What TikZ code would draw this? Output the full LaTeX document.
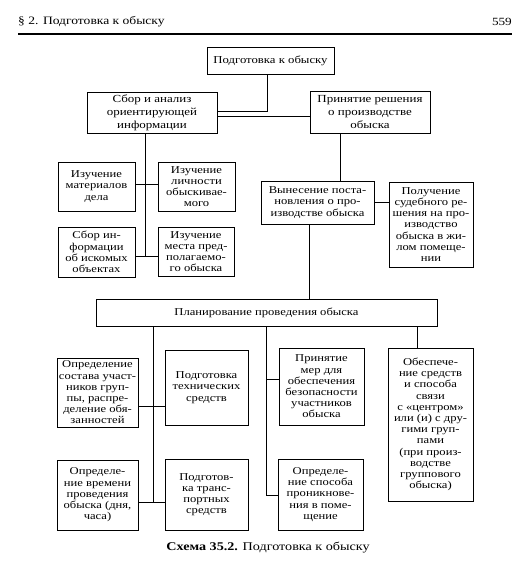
\documentclass[tikz,border=0pt]{standalone}
\usepackage{fontspec}
\setmainfont[FakeStretch=1.2]{Liberation Serif}
\begin{document}
\begin{tikzpicture}[x=1pt,y=-1pt,
  box/.style={draw, line width=0.8pt, align=center, inner sep=1pt,
    font={\fontsize{10.5}{11.2}\selectfont}},
  bigbox/.style={box, font={\fontsize{10.8}{13}\selectfont}},
  link/.style={line width=0.8pt}]
\useasboundingbox (0,0) rectangle (519,562);
% header
\node[anchor=west, inner sep=0pt, font={\fontsize{11.3}{13}\selectfont}] (hdr) at (18,22) {§ 2. Подготовка к обыску};
\node[anchor=east, inner sep=0pt, font={\fontsize{11}{13}\selectfont}] (pg) at (512,22) {559};
\coordinate (r1) at (18,34);
\coordinate (r2) at (512,34);
\draw[line width=1.1pt] (r1) -- (r2);
% boxes
\node[box, font={\fontsize{10.6}{13}\selectfont}, minimum width=127pt, minimum height=27pt] (top) at (270.5,60.5) {Подготовка к обыску};
\node[bigbox, minimum width=130pt, minimum height=41pt] (sbor) at (152,112.5) {Сбор и анализ\\ориентирующей\\информации};
\node[bigbox, minimum width=120pt, minimum height=42pt] (prin) at (370,112) {Принятие решения\\о производстве\\обыска};
\node[box, minimum width=77pt, minimum height=49pt] (izm) at (96.5,186.5) {Изучение\\материалов\\дела};
\node[box, minimum width=77pt, minimum height=49pt] (izl) at (196.5,186.5) {Изучение\\личности\\обыскивае-\\мого};
\node[box, minimum width=77pt, minimum height=50pt] (sbi) at (96.5,252) {Сбор ин-\\формации\\об искомых\\объектах};
\node[box, minimum width=76pt, minimum height=49pt] (izp) at (196,251.5) {Изучение\\места пред-\\полагаемо-\\го обыска};
\node[box, minimum width=113pt, minimum height=43pt] (vyn) at (317.5,202.5) {Вынесение поста-\\новления о про-\\изводстве обыска};
\node[box, minimum width=84pt, minimum height=85pt] (pol) at (431,224.5) {Получение\\судебного ре-\\шения на про-\\изводство\\обыска в жи-\\лом помеще-\\нии};
\node[box, minimum width=341pt, minimum height=27pt] (plan) at (266.5,312.5) {Планирование проведения обыска};
\node[box, minimum width=81pt, minimum height=69pt] (ops) at (97.5,392.5) {Определение\\состава участ-\\ников груп-\\пы, распре-\\деление обя-\\занностей};
\node[box, minimum width=83pt, minimum height=75pt] (ptech) at (206.5,387.5) {Подготовка\\технических\\средств};
\node[box, minimum width=85pt, minimum height=77pt] (pmer) at (321.5,386.5) {Принятие\\мер для\\обеспечения\\безопасности\\участников\\обыска};
\node[box, minimum width=85pt, minimum height=153pt] (obes) at (430.5,424.5) {Обеспече-\\ние средств\\и способа\\связи\\с «центром»\\или (и) с дру-\\гими груп-\\пами\\(при произ-\\водстве\\группового\\обыска)};
\node[box, minimum width=81pt, minimum height=70pt] (ovr) at (97.5,495) {Определе-\\ние времени\\проведения\\обыска (дня,\\часа)};
\node[box, minimum width=83pt, minimum height=71pt] (ptr) at (206.5,494.5) {Подготов-\\ка транс-\\портных\\средств};
\node[box, minimum width=85pt, minimum height=71pt] (osp) at (320.5,494.5) {Определе-\\ние способа\\проникнове-\\ния в поме-\\щение};
% caption
\node[inner sep=0pt, font={\fontsize{11.8}{13}\selectfont}] (cap) at (268,548) {\textbf{Схема 35.2.} Подготовка к обыску};
% coordinates for trunk ends
\coordinate (sv) at (145,256);
\coordinate (pv1) at (153,502);
\coordinate (pv2) at (266,495);
% connectors
\draw[link] ([xshift=-3.5pt]top.south) |- ([yshift=1.5pt]sbor.east);
\draw[link] ([yshift=-3.5pt]sbor.east) -- ([yshift=-3.5pt]sbor.east -| prin.west);
\draw[link] (sbor.south -| sv) -- (sv);
\draw[link] ([yshift=2.5pt]izm.east) -- ([yshift=2.5pt]izm.east -| izl.west);
\draw[link] ([yshift=-4pt]sbi.east) -- ([yshift=-4pt]sbi.east -| izp.west);
\draw[link] ([xshift=-30pt]prin.south) -- ([xshift=-30pt]prin.south |- vyn.north);
\draw[link] (vyn.east) -- (vyn.east -| pol.west);
\draw[link] ([xshift=-8.5pt]vyn.south) -- ([xshift=-8.5pt]vyn.south |- plan.north);
\draw[link] (plan.south -| pv1) -- (pv1);
\draw[link] ([yshift=-13.5pt]ops.east) -- ([yshift=-13.5pt]ops.east -| ptech.west);
\draw[link] (ovr.east |- pv1) -- (ptr.west |- pv1);
\draw[link] (plan.south -| pv2) |- (osp.west |- pv2);
\draw[link] ([yshift=7.5pt]pmer.west -| pv2) -- ([yshift=7.5pt]pmer.west);
\draw[link] ([xshift=150.5pt]plan.south) -- ([xshift=150.5pt]plan.south |- obes.north);
\end{tikzpicture}
\end{document}
